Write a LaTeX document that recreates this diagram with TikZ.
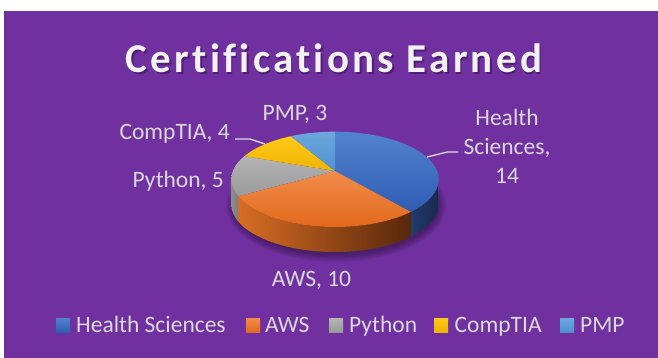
\documentclass[tikz,border=0pt]{standalone}
\usepackage{fontspec}
\setmainfont{Carlito}
\newfontfamily\titlefont[LetterSpace=8,Ligatures={NoCommon}]{Carlito}
\definecolor{bgpurple}{HTML}{7030A0}
\definecolor{labelgray}{HTML}{D9D9D9}
\definecolor{titlewhite}{HTML}{F2F2F2}
\definecolor{titleshadow}{HTML}{3A1157}
\definecolor{hsTop}{HTML}{5382CE}
\definecolor{hsBot}{HTML}{2F5DB3}
\definecolor{awsTop}{HTML}{F08C4C}
\definecolor{awsBot}{HTML}{E3691B}
\definecolor{pyTop}{HTML}{B4B4B4}
\definecolor{pyBot}{HTML}{9A9A9A}
\definecolor{ctTop}{HTML}{FFC918}
\definecolor{ctBot}{HTML}{F0B300}
\definecolor{pmTop}{HTML}{6DA7DC}
\definecolor{pmBot}{HTML}{4E91D1}
\definecolor{hsSideL}{HTML}{213B6C}
\definecolor{hsSideR}{HTML}{18294D}
\definecolor{awsSideL}{HTML}{D86D24}
\definecolor{awsSideR}{HTML}{57270B}
\definecolor{pySideL}{HTML}{8E8E8E}
\definecolor{pySideR}{HTML}{7C7C7C}
\begin{document}
\begin{tikzpicture}[x=1pt,y=-1pt,
  declare function={px(\t)=335+102.1*cos(\t)/(1+0.175*sin(\t));
                    py(\t)=171-46.2*sin(\t)/(1+0.175*sin(\t));},
  lbl/.style={text=labelgray,inner sep=0pt,font=\fontsize{23.5}{28.5}\selectfont},
  ttl/.style={inner sep=0pt,anchor=base,font=\titlefont\bfseries\fontsize{41}{48}\selectfont},
  leader/.style={draw=labelgray,line width=1.3pt},
  sq/.style={minimum size=14pt,inner sep=0pt,outer sep=0pt}]
\useasboundingbox (0,0) rectangle (658,358);
\fill[white] (0,0) rectangle (658,358);
\fill[bgpurple] (4,11) rectangle (658,358);
% title with soft shadow
\node[ttl,text=titleshadow,opacity=0.6] (titleshadow) at (335.5,75) {Certifications Earned};
\node[ttl,text=titlewhite] (title) at (334,73) {Certifications Earned};
% shadow under pie
\foreach \i in {1,...,5}{
  \fill[black,opacity=0.07] (336,206) ellipse ({102+1.6*\i} and {48+1.6*\i});
}
% sides
\shade[left color=hsSideL,right color=hsSideR]
  plot[domain=-10.08:-50,samples=30,variable=\a] ({px(\a)},{py(\a)})
  -- plot[domain=-50:-10.08,samples=30,variable=\a] ({px(\a)},{py(\a)+25}) -- cycle;
\shade[left color=awsSideL,right color=awsSideR]
  plot[domain=-50:-150,samples=60,variable=\a] ({px(\a)},{py(\a)})
  -- plot[domain=-150:-50,samples=60,variable=\a] ({px(\a)},{py(\a)+25}) -- cycle;
\shade[left color=pySideL,right color=pySideR]
  plot[domain=-150:-169.92,samples=20,variable=\a] ({px(\a)},{py(\a)})
  -- plot[domain=-169.92:-150,samples=20,variable=\a] ({px(\a)},{py(\a)+25}) -- cycle;
% top faces
\coordinate (ctr) at (335,171);
\shade[top color=hsTop,bottom color=hsBot]
  (ctr) -- plot[domain=90:-50,samples=80,variable=\a] ({px(\a)},{py(\a)}) -- cycle;
\shade[top color=awsTop,bottom color=awsBot]
  (ctr) -- plot[domain=-50:-150,samples=60,variable=\a] ({px(\a)},{py(\a)}) -- cycle;
\shade[top color=pyTop,bottom color=pyBot]
  (ctr) -- plot[domain=-150:-200,samples=30,variable=\a] ({px(\a)},{py(\a)}) -- cycle;
\shade[top color=ctTop,bottom color=ctBot]
  (ctr) -- plot[domain=160:120,samples=30,variable=\a] ({px(\a)},{py(\a)}) -- cycle;
\shade[top color=pmTop,bottom color=pmBot]
  (ctr) -- plot[domain=120:90,samples=30,variable=\a] ({px(\a)},{py(\a)}) -- cycle;
% data labels
\node[lbl,anchor=base] (pmp) at (295,121) {PMP, 3};
\node[lbl,anchor=base east] (comptia) at (230,140) {CompTIA, 4};
\node[lbl,anchor=base east] (python) at (224,187) {Python, 5};
\node[lbl,anchor=base] (aws) at (311.5,286) {AWS, 10};
\node[lbl,anchor=base] (hs1) at (507,126) {Health};
\node[lbl,anchor=base] (hs2) at (507,155) {Sciences,};
\node[lbl,anchor=base] (hs3) at (507,183) {14};
% leader lines
\coordinate (cpt) at (265,144);
\coordinate (hpt) at (427,157);
\draw[leader] ([xshift=5pt,yshift=1pt]comptia.base east) -- ++(15,0) -- (cpt);
\draw[leader] ([xshift=-5pt,yshift=3pt]hs2.base west) -- ++(-11,0) -- (hpt);
% legend
\shade[top color=hsTop,bottom color=hsBot] (56,318) rectangle (70,332);
\node[sq] (lg1) at (63,325) {};
\node[lbl,anchor=base west] (lt1) at (76,332) {Health Sciences};
\shade[top color=awsTop,bottom color=awsBot] (246,318) rectangle (260,332);
\node[sq] (lg2) at (253,325) {};
\node[lbl,anchor=base west] (lt2) at (265,332) {AWS};
\shade[top color=pyTop,bottom color=pyBot] (329,318) rectangle (343,332);
\node[sq] (lg3) at (336,325) {};
\node[lbl,anchor=base west] (lt3) at (349,332) {Python};
\shade[top color=ctTop,bottom color=ctBot] (434,318) rectangle (448,332);
\node[sq] (lg4) at (441,325) {};
\node[lbl,anchor=base west] (lt4) at (454.5,332) {CompTIA};
\shade[top color=pmTop,bottom color=pmBot] (560,318) rectangle (574,332);
\node[sq] (lg5) at (567,325) {};
\node[lbl,anchor=base west] (lt5) at (580,332) {PMP};
\end{tikzpicture}
\end{document}
